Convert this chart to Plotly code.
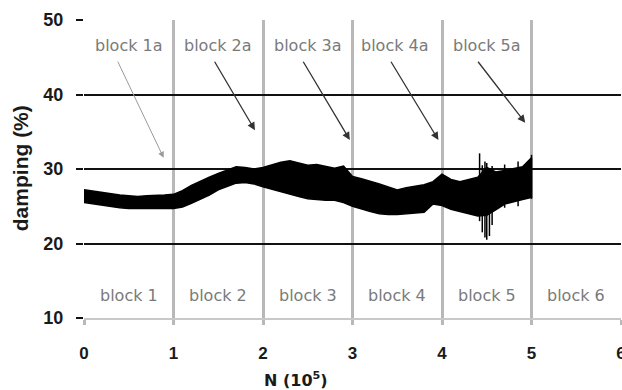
import plotly.graph_objects as go

# ---- data ----
n_vals = [0.0, 0.1, 0.2, 0.3, 0.4, 0.5, 0.6, 0.7, 0.8, 0.9,
          1.0, 1.1, 1.2, 1.3, 1.4, 1.5, 1.6, 1.7, 1.8, 1.9,
          2.0, 2.1, 2.2, 2.3, 2.4, 2.5, 2.6, 2.7, 2.8, 2.9,
          3.0, 3.1, 3.2, 3.3, 3.4, 3.5, 3.6, 3.7, 3.8, 3.9,
          4.0, 4.1, 4.2, 4.3, 4.4, 4.5, 4.6, 4.7, 4.8, 4.9, 5.0]
damping_upper = [27.2, 27.0, 26.9, 26.6, 26.5, 26.4, 26.3, 26.4, 26.4, 26.5,
                 26.6, 27.1, 27.8, 28.4, 28.9, 29.4, 29.9, 30.3, 30.2, 30.0,
                 30.2, 30.6, 30.9, 31.1, 30.8, 30.5, 30.6, 30.3, 30.1, 30.4,
                 29.0, 28.7, 28.4, 28.0, 27.6, 27.2, 27.5, 27.7, 27.9, 28.3,
                 29.3, 28.6, 28.3, 28.6, 28.9, 30.2, 29.6, 29.8, 30.1, 30.3, 31.5]
damping_lower = [25.5, 25.4, 25.2, 25.0, 24.8, 24.7, 24.7, 24.6, 24.7, 24.7,
                 24.7, 24.9, 25.4, 25.9, 26.5, 27.2, 27.7, 28.1, 28.2, 28.0,
                 27.6, 27.2, 26.9, 26.6, 26.3, 26.0, 25.9, 25.8, 25.8, 25.5,
                 25.0, 24.6, 24.3, 24.0, 23.9, 23.9, 24.0, 24.1, 24.2, 25.3,
                 25.1, 24.6, 24.3, 24.0, 23.7, 23.8, 24.5, 25.3, 25.6, 25.9, 26.2]

spike_n = [4.42, 4.45, 4.48, 4.50, 4.53, 4.56, 4.70, 4.85, 5.00]
spike_low = [23.0, 21.5, 20.8, 20.5, 21.0, 22.5, 24.8, 25.0, 26.0]
spike_high = [32.1, 30.5, 31.0, 30.8, 30.0, 30.4, 30.6, 31.0, 31.9]

block_names = ["block 1", "block 2", "block 3", "block 4", "block 5", "block 6"]
block_pos = [0.5, 1.5, 2.5, 3.5, 4.5, 5.5]
block_label_y = 13.0

sub_names = ["block 1a", "block 2a", "block 3a", "block 4a", "block 5a"]
sub_label_x = [0.5, 1.5, 2.5, 3.48, 4.5]
sub_label_y = 46.6
arrow_start_x = [0.37, 1.45, 2.44, 3.42, 4.39]
arrow_start_y = 44.6
arrow_end_x = [0.89, 1.91, 2.97, 3.96, 4.93]
arrow_end_y = [31.5, 35.2, 33.9, 33.9, 36.2]

x_ticks = [0, 1, 2, 3, 4, 5, 6]
y_ticks = [10, 20, 30, 40, 50]

fig = go.Figure()

# noisy damping band
fig.add_trace(go.Scatter(
    x=n_vals + n_vals[::-1],
    y=damping_upper + damping_lower[::-1],
    fill="toself", fillcolor="black",
    line=dict(color="black", width=1.5),
    mode="lines", hoverinfo="skip", showlegend=False))

# spikes
sx, sy = [], []
for xv, lo, hi in zip(spike_n, spike_low, spike_high):
    sx += [xv, xv, None]
    sy += [lo, hi, None]
fig.add_trace(go.Scatter(x=sx, y=sy, mode="lines",
                         line=dict(color="black", width=1.5),
                         showlegend=False, hoverinfo="skip"))

label_font = dict(family="DejaVu Sans", size=16, color="#7a7a7a")
annotations = []
for name, xp in zip(block_names, block_pos):
    annotations.append(dict(x=xp, y=block_label_y, xref="x", yref="y",
                            text=name, showarrow=False, font=label_font))
for i, name in enumerate(sub_names):
    annotations.append(dict(x=sub_label_x[i], y=sub_label_y, xref="x", yref="y",
                            text=name, showarrow=False, font=label_font))
    col = "#9a9a9a" if i == 0 else "#333333"
    annotations.append(dict(x=arrow_end_x[i], y=arrow_end_y[i], xref="x", yref="y",
                            ax=arrow_start_x[i], ay=arrow_start_y,
                            axref="x", ayref="y", text="", showarrow=True,
                            arrowhead=2, arrowsize=1.2, arrowwidth=1.3 if i else 1,
                            arrowcolor=col))

annotations.append(dict(x=0.395, y=-0.205, xref="paper", yref="paper",
                        text="N (10<sup>5</sup>)", showarrow=False,
                        font=dict(family="DejaVu Sans", size=16, color="#1a1a1a", weight="bold"),
                        xanchor="center", yanchor="middle"))
annotations.append(dict(x=-0.119, y=0.503, xref="paper", yref="paper",
                        text="damping (%)", showarrow=False, textangle=-90,
                        font=dict(family="Liberation Sans", size=21, color="#1a1a1a", weight="bold"),
                        xanchor="center", yanchor="middle"))

fig.update_layout(
    width=622, height=390,
    margin=dict(l=84, r=1, t=20, b=72, autoexpand=False),
    paper_bgcolor="white", plot_bgcolor="white",
    showlegend=False,
    annotations=annotations,
    xaxis=dict(range=[0, 6], tickvals=x_ticks, ticktext=[str(v) for v in x_ticks],
               automargin=False,
               showgrid=True, gridcolor="#b8b8b8", gridwidth=3,
               zeroline=False, showline=True, linecolor="#c8c8c8", linewidth=2,
               ticks="outside", ticklen=5, tickwidth=3, tickcolor="#b8b8b8",
               ticklabelstandoff=14, ticklabeloverflow="allow",
               tickfont=dict(family="Liberation Sans", size=17, color="#1a1a1a", weight="bold")),
    yaxis=dict(range=[10, 50], tickvals=y_ticks, ticktext=[str(v) for v in y_ticks],
               automargin=False,
               showgrid=True, gridcolor="#111111", gridwidth=1.5,
               zeroline=False, showline=False,
               ticks="outside", ticklen=7, tickwidth=1.5, tickcolor="#111111",
               ticklabelstandoff=9,
               tickfont=dict(family="Liberation Sans", size=18, color="#1a1a1a", weight="bold")),
)

fig.write_html("out.html", config={"displayModeBar": False},
               post_script="document.body.style.margin='0';document.body.style.overflow='hidden';")
